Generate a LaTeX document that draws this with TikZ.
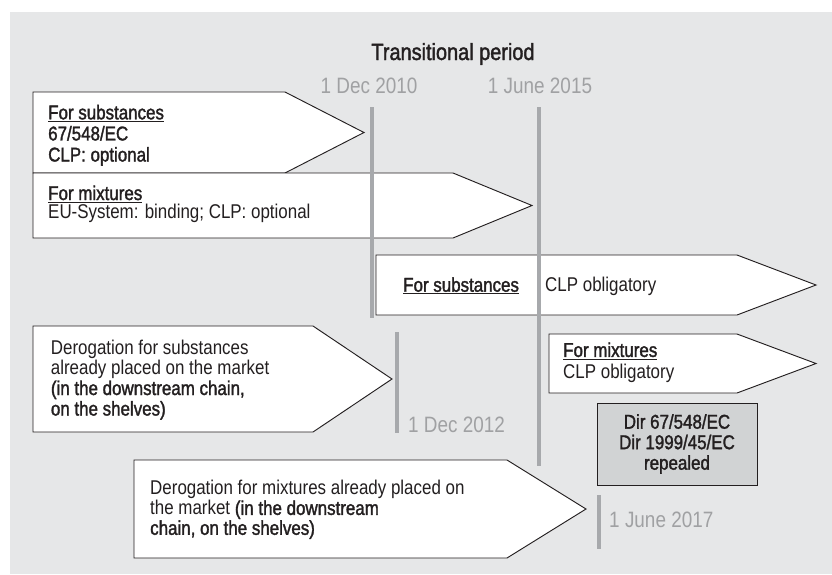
\documentclass[tikz,border=0pt]{standalone}
\usepackage{fontspec}
\setmainfont{Liberation Sans}[FakeStretch=0.85]
\newfontfamily\medfont{Liberation Sans}[FakeStretch=0.85,FakeBold=1.6]
\usepackage{tikz}
\definecolor{panelgray}{HTML}{E6E7E8}
\definecolor{markgray}{HTML}{A7A9AC}
\definecolor{dategray}{HTML}{A0A1A3}
\definecolor{inkdark}{HTML}{231F20}
\definecolor{dirfill}{HTML}{D1D3D4}
\newcommand{\tagshape}[4]{\draw[tagbox] (#1,#3) -- (#2,#3) -- ({#2+79},{(#3+#4)/2}) -- (#2,#4) -- (#1,#4) -- cycle;}
\begin{document}
\begin{tikzpicture}[x=0.03cm, y=-0.03cm, font=\fontsize{17}{17.5}\selectfont,
		tagbox/.style={draw=inkdark, line width=0.8pt, fill=white},
		marker/.style={draw=markgray, line width=2.6pt},
		datelbl/.style={text=dategray, font=\fontsize{19}{21}\selectfont, inner sep=0pt},
		body/.style={align=left, inner sep=0pt, anchor=base west, text=inkdark}]
		\useasboundingbox (0,0) rectangle (832,574);
		\fill[panelgray] (10,12) rectangle (832,574);
		% arrow boxes
		\tagshape{33}{285}{92}{173}
		\tagshape{33}{453}{173}{238}
		\tagshape{376}{737}{255}{315}
		\tagshape{33}{313}{326}{432}
		\tagshape{134}{507}{460}{558}
		\tagshape{549}{737}{334}{393}
		% date markers
		\draw[marker] (372,107) -- (372,318);
		\draw[marker] (539,107) -- (539,466);
		\draw[marker] (397,332) -- (397,433);
		\draw[marker] (599,495) -- (599,549);
		% headings and dates
		\node[inner sep=0pt, anchor=base, text=inkdark, font=\medfont\fontsize{20}{22}\selectfont] (title) at (453,60) {Transitional period};
		\node[datelbl, anchor=base] (d2010) at (369,93) {1 Dec 2010};
		\node[datelbl, anchor=base] (d2015) at (540,93) {1 June 2015};
		\node[datelbl, anchor=base west] (d2012) at (408,432) {1 Dec 2012};
		\node[datelbl, anchor=base west] (d2017) at (609,527) {1 June 2017};
		% box texts (base = last line)
		\node[body, font=\medfont\fontsize{17}{18}\selectfont] (subold) at (48,161.5) {\underline{For substances}\\67/548/EC\\CLP: optional};
		\node[body, font=\fontsize{17}{15.6}\selectfont] (mixold) at (48,218.3) {{\medfont\underline{For mixtures}}\\EU-System: binding; CLP: optional};
		\node[body, font=\medfont\fontsize{17}{17.5}\selectfont] (subnew) at (403,291.7) {\underline{For substances}};
		\node[body] (subclp) at (545,291.7) {CLP obligatory};
		\node[body] (subder) at (50.7,415.5) {Derogation for substances\\already placed on the market\\{\medfont (in the downstream chain,}\\{\medfont on the shelves)}};
		\node[body, font=\fontsize{17}{17}\selectfont] (mixder) at (150,534.8) {Derogation for mixtures already placed on\\the market {\medfont (in the downstream}\\{\medfont chain, on the shelves)}};
		\node[body, font=\fontsize{17}{18}\selectfont] (mixnew) at (563,378) {{\medfont\underline{For mixtures}}\\CLP obligatory};
		\node[draw=inkdark, line width=0.8pt, fill=dirfill, minimum width=4.8cm, minimum height=2.46cm, align=center, text=inkdark, font=\medfont\fontsize{17}{17.5}\selectfont] (repeal) at (677,444) {Dir 67/548/EC\\Dir 1999/45/EC\\repealed};
\end{tikzpicture}
\end{document}
